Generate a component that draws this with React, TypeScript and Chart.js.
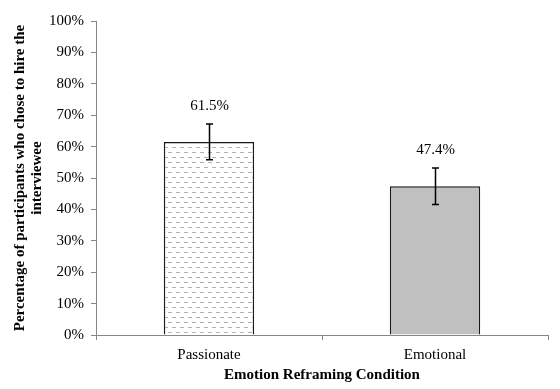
import React, { useEffect, useRef } from "react";
import { Chart, registerables } from "chart.js";

Chart.register(...registerables);

const categories = ["Passionate", "Emotional"];
const values = [61.5, 47.4];
const errors = [5.7, 5.8];
const valueLabels = ["61.5%", "47.4%"];
const yTicks = [0, 10, 20, 30, 40, 50, 60, 70, 80, 90, 100];
const yTitle = ["Percentage of participants who chose to hire the", "interviewee"];
const xTitle = "Emotion Reframing Condition";

const FONT = "'Liberation Serif', 'Times New Roman', serif";

function makePattern(): CanvasPattern | string {
  const c = document.createElement("canvas");
  c.width = 8;
  c.height = 10;
  const g = c.getContext("2d");
  if (!g) return "#ffffff";
  g.fillStyle = "#ffffff";
  g.fillRect(0, 0, 8, 10);
  g.fillStyle = "#b0b0b0";
  g.fillRect(0, 2, 4, 1);
  g.fillRect(4, 7, 4, 1);
  const p = g.createPattern(c, "repeat");
  return p || "#ffffff";
}

const errorBarPlugin = {
  id: "errorBars",
  afterDatasetsDraw(chart: any) {
    const ctx = chart.ctx;
    const meta = chart.getDatasetMeta(0);
    const yScale = chart.scales.y;
    ctx.save();
    meta.data.forEach((bar: any, i: number) => {
      const x = Math.round(bar.x) + 0.5;
      const top = yScale.getPixelForValue(values[i] + errors[i]);
      const bot = yScale.getPixelForValue(values[i] - errors[i]);
      ctx.strokeStyle = "#000";
      ctx.lineWidth = 1.5;
      ctx.beginPath();
      ctx.moveTo(x, top);
      ctx.lineTo(x, bot);
      ctx.moveTo(x - 3.5, top);
      ctx.lineTo(x + 3.5, top);
      ctx.moveTo(x - 3.5, bot);
      ctx.lineTo(x + 3.5, bot);
      ctx.stroke();
      ctx.fillStyle = "#000";
      ctx.font = `15px ${FONT}`;
      ctx.textAlign = "center";
      ctx.textBaseline = "middle";
      ctx.fillText(valueLabels[i], x, top - 18);
    });
    ctx.restore();
  },
};

export default function App() {
  const ref = useRef<HTMLCanvasElement>(null);
  useEffect(() => {
    if (!ref.current) return;
    const pattern = makePattern();
    const chart = new Chart(ref.current, {
      type: "bar",
      data: {
        labels: categories,
        datasets: [
          {
            data: values,
            backgroundColor: [pattern as any, "#c0c0c0"],
            borderColor: "#1a1a1a",
            borderWidth: 1.5,
            categoryPercentage: 1,
            barPercentage: 0.4,
          },
        ],
      },
      options: {
        animation: false,
        responsive: true,
        maintainAspectRatio: false,
        layout: { padding: { top: 21, right: 12, left: 0, bottom: 0 } },
        plugins: {
          legend: { display: false },
          tooltip: { enabled: false },
        },
        scales: {
          x: {
            offset: true,
            grid: {
              offset: true,
              drawOnChartArea: false,
              drawTicks: true,
              tickLength: 5,
              color: "#868686",
            },
            border: { color: "#868686", width: 1 },
            ticks: {
              color: "#000",
              font: { family: FONT, size: 15 },
              padding: 6,
            },
            title: {
              display: true,
              text: xTitle,
              color: "#000",
              font: { family: FONT, size: 15, weight: "bold", lineHeight: 1.15 },
              padding: { top: 2, bottom: 5 },
            },
            afterFit(scale: any) {
              scale.height = 54;
            },
          },
          y: {
            min: 0,
            max: 100,
            afterBuildTicks(scale: any) {
              scale.ticks = yTicks.map((v) => ({ value: v }));
            },
            grid: {
              drawOnChartArea: false,
              drawTicks: true,
              tickLength: 5,
              color: "#868686",
            },
            border: { color: "#868686", width: 1 },
            ticks: {
              color: "#000",
              font: { family: FONT, size: 15 },
              padding: 7,
              callback: (v: any) => `${v}%`,
            },
            title: {
              display: true,
              text: yTitle,
              color: "#000",
              font: { family: FONT, size: 15, weight: "bold", lineHeight: 1.15 },
              padding: { top: 11, bottom: 2 },
            },
            afterFit(scale: any) {
              scale.width = 96;
            },
          },
        },
      },
      plugins: [errorBarPlugin],
    });
    return () => chart.destroy();
  }, []);
  return (
    <div style={{ position: "fixed", left: 0, top: 0, width: 560, height: 389, background: "#fff" }}>
      <canvas ref={ref} />
    </div>
  );
}
